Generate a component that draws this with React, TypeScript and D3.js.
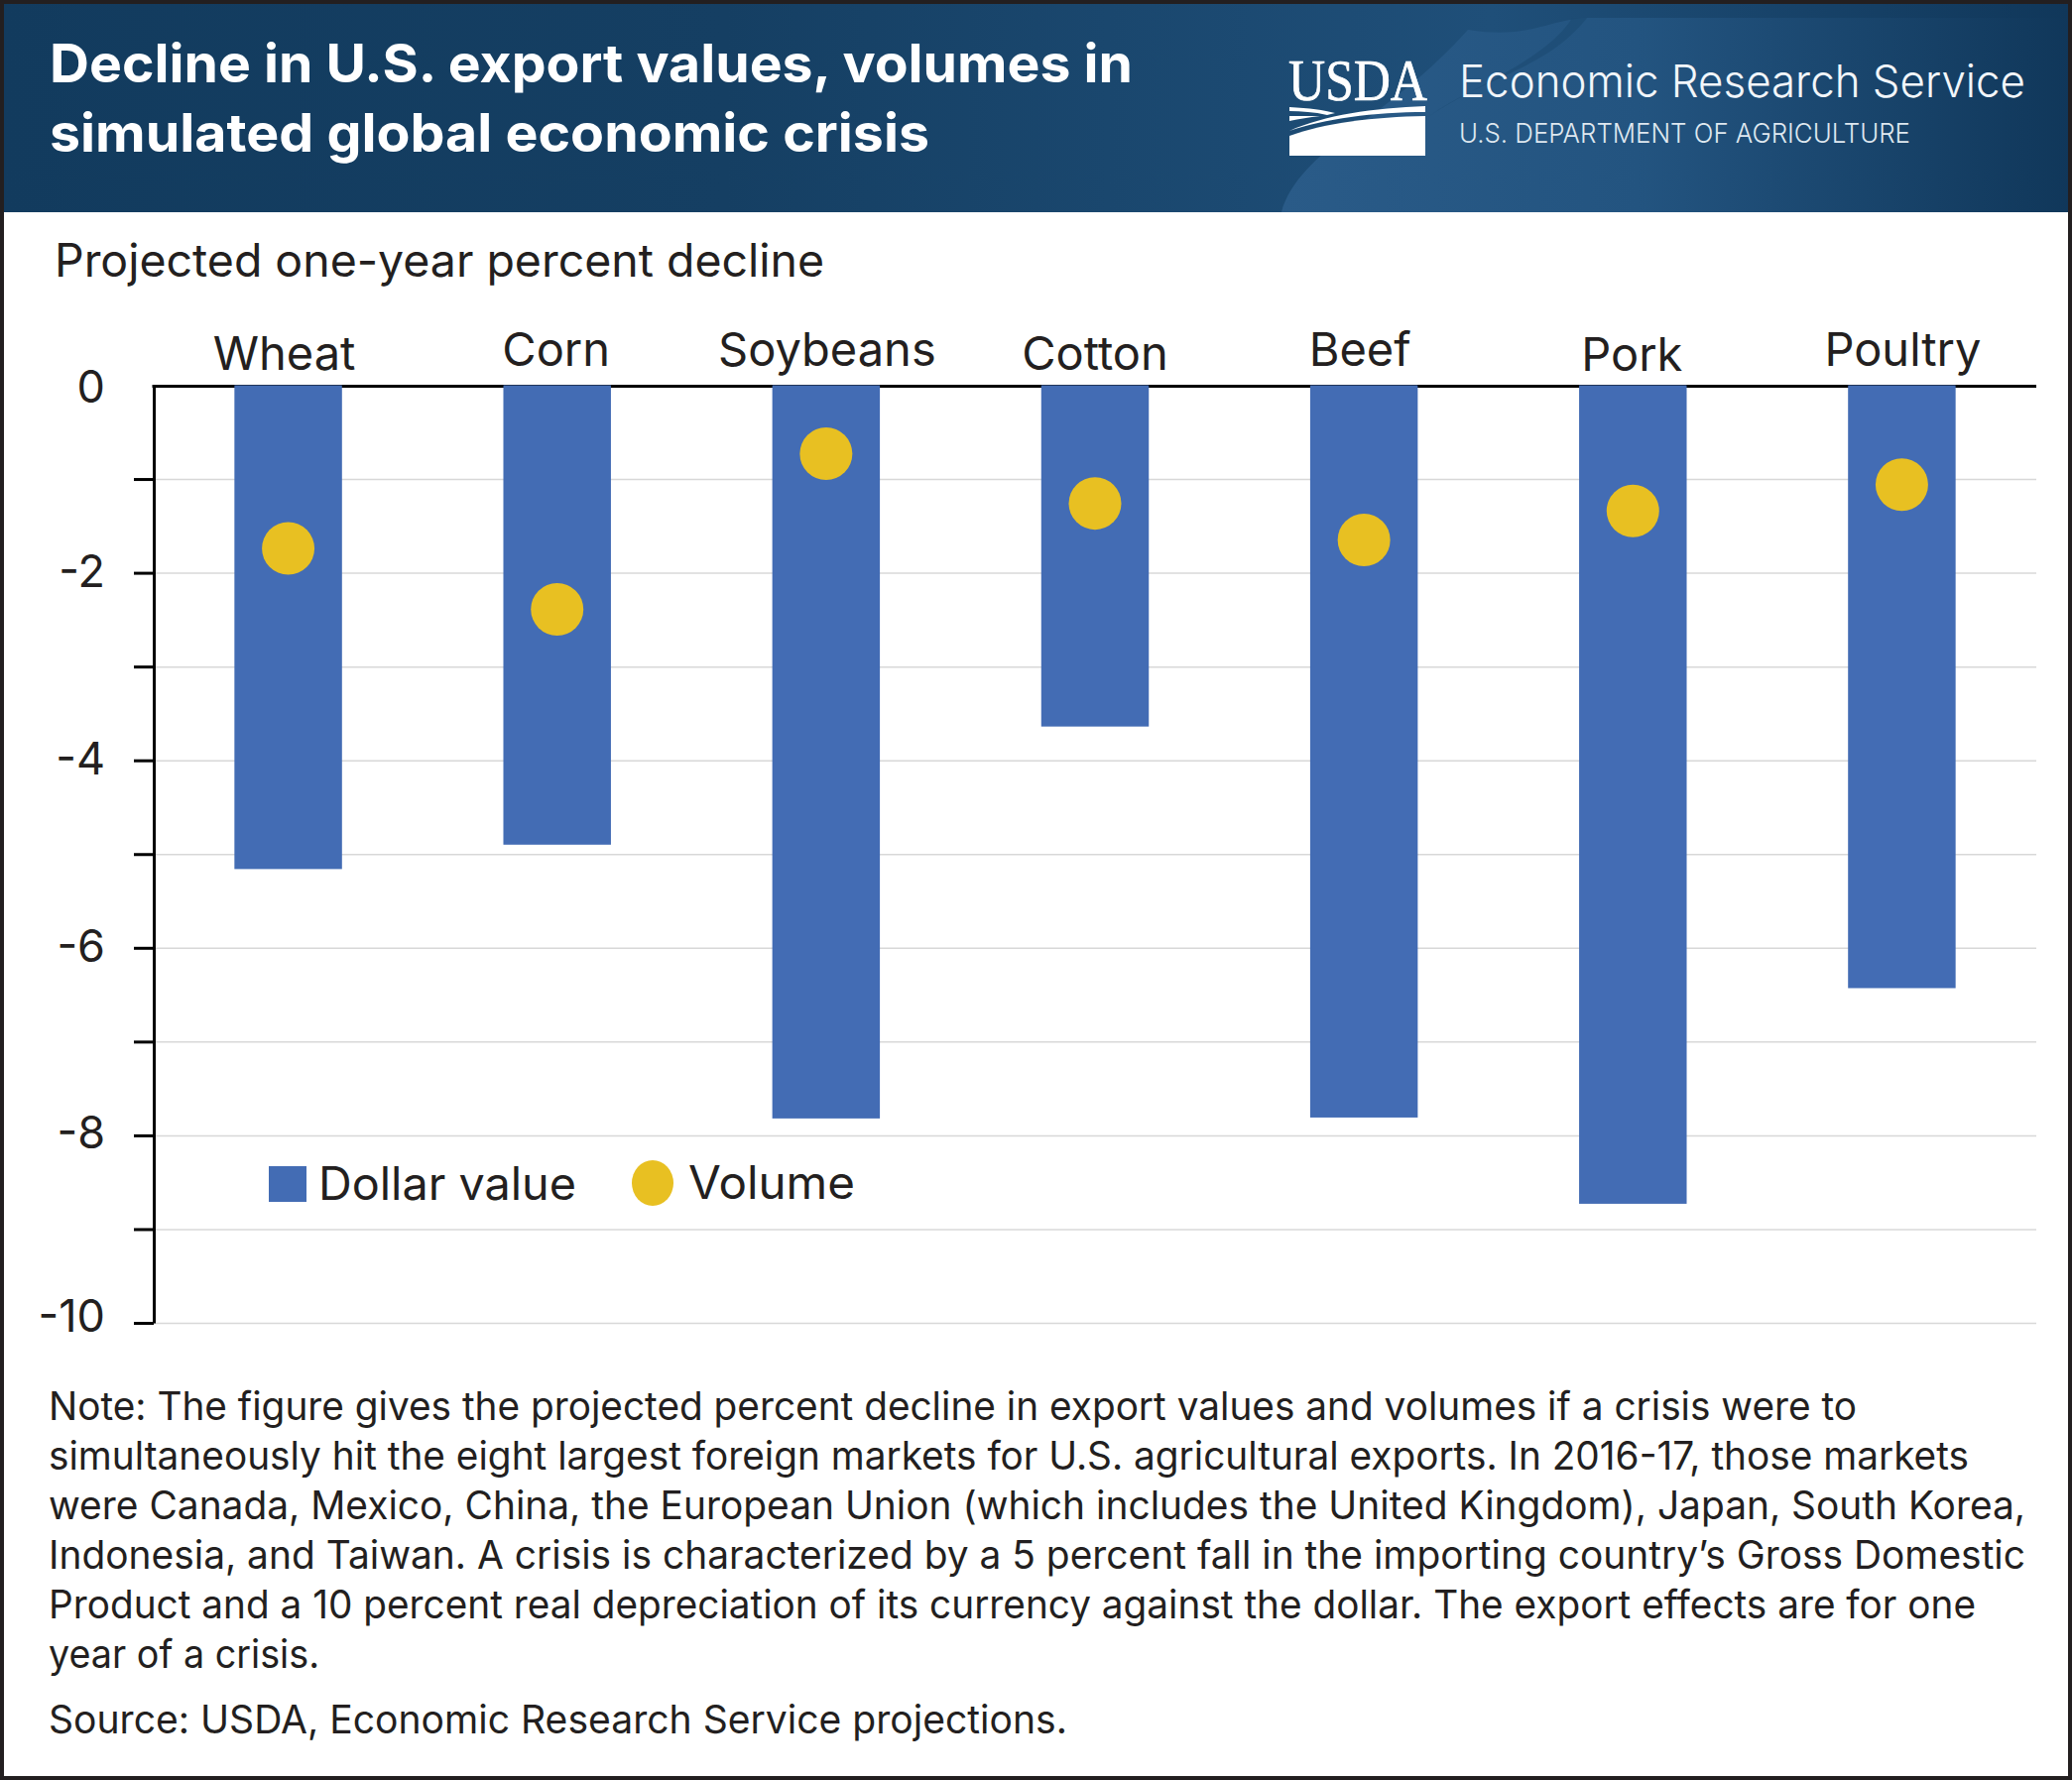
import React, { useRef, useEffect } from "react"
import * as d3 from "d3"

const categories = ["Wheat", "Corn", "Soybeans", "Cotton", "Beef", "Pork", "Poultry"]
const dollarValue = [-5.16, -4.9, -7.82, -3.64, -7.81, -8.73, -6.43]
const volume = [-1.74, -2.39, -0.73, -1.26, -1.65, -1.34, -1.06]
const yTicks = [0, -1, -2, -3, -4, -5, -6, -7, -8, -9, -10]

const titleLines = ["Decline in U.S. export values, volumes in", "simulated global economic crisis"]
const noteLines = [
	"Note: The figure gives the projected percent decline in export values and volumes if a crisis were to",
	"simultaneously hit the eight largest foreign markets for U.S. agricultural exports. In 2016-17, those markets",
	"were Canada, Mexico, China, the European Union (which includes the United Kingdom), Japan, South Korea,",
	"Indonesia, and Taiwan. A crisis is characterized by a 5 percent fall in the importing country\u2019s Gross Domestic",
	"Product and a 10 percent real depreciation of its currency against the dollar. The export effects are for one",
	"year of a crisis.",
]
const noteWidths = [1823, 1936, 1993, 1993, 1943, 273]

// the labels sit a little unevenly in the original
const labelDx = [-4, -1, 1, 0, -4, -1, 1]
const labelDy = [4, 0, 0, 4, 0, 5, 0]
const tickLabelDy = [3, 0, -1, 0, -1, 0, -1, 0, -2, 0, -6]

const W = 2089
const H = 1795
const FONT = "Inter, sans-serif"
const INK = "#231f20"
const BLUE = "#436cb4"
const GOLD = "#e8c022"

const App: React.FunctionComponent = () => {
	const svgRef = useRef<any>()

	useEffect(() => {
		const svg = d3.select(svgRef.current)
		svg.selectAll("*").remove()

		const defs = svg.append("defs")
		const grad = defs.append("linearGradient").attr("id", "hdr")
		grad.append("stop").attr("offset", "0").attr("stop-color", "#123b5e")
		grad.append("stop").attr("offset", "0.35").attr("stop-color", "#153f63")
		grad.append("stop").attr("offset", "0.72").attr("stop-color", "#1f4f79")
		grad.append("stop").attr("offset", "1").attr("stop-color", "#10375a")
		const grad2 = defs.append("linearGradient").attr("id", "swoosh")
		grad2.append("stop").attr("offset", "0").attr("stop-color", "#2a5b88")
		grad2.append("stop").attr("offset", "0.45").attr("stop-color", "#235480")
		grad2.append("stop").attr("offset", "1").attr("stop-color", "#10375a")

		svg.append("rect").attr("width", W).attr("height", H).attr("fill", "#fff")

		// header band
		svg.append("rect").attr("y", 4).attr("width", W).attr("height", 210).attr("fill", "url(#hdr)")
		svg.append("path")
			.attr("d", "M1292,214 C1310,150 1400,120 1480,30 C1540,40 1560,20 1600,18 L2089,18 L2089,214 Z")
			.attr("fill", "url(#swoosh)")
		svg.append("path")
			.attr("d", "M1440,118 C1490,80 1560,70 1600,18 L1585,18 C1560,60 1480,90 1440,118 Z")
			.attr("fill", "#1c4b74")
			.attr("opacity", 0.7)

		const text = (g: any, s: string, x: number, y: number, size: number, w?: number) => {
			const t = g.append("text")
				.attr("x", x)
				.attr("y", y)
				.attr("font-family", FONT)
				.attr("font-size", size)
				.attr("fill", INK)
				.text(s)
			if (w) t.attr("textLength", w).attr("lengthAdjust", "spacingAndGlyphs")
			return t
		}

		text(svg, titleLines[0], 50, 83, 54, 1092).attr("fill", "#fff").attr("font-weight", 700)
		text(svg, titleLines[1], 50, 153, 54, 887).attr("fill", "#fff").attr("font-weight", 700)

		// logo
		text(svg, "USDA", 1299, 101, 59, 140)
			.attr("fill", "#fff")
			.attr("stroke", "#fff")
			.attr("stroke-width", 0.7)
			.attr("font-family", "'Liberation Serif', serif")
		svg.append("path")
			.attr("d", "M1300,137 C1335,124 1385,118 1437,117 L1437,157 L1300,157 Z")
			.attr("fill", "#fff")
		svg.append("path")
			.attr("d", "M1300,132 C1335,116 1385,109 1437,107 L1437,113 C1385,113 1335,120 1300,132 Z")
			.attr("fill", "#fff")
		svg.append("path").attr("d", "M1300,108 C1320,109 1335,111 1346,114 L1338,116 C1325,113 1312,112 1300,112 Z").attr("fill", "#fff")
		svg.append("path").attr("d", "M1300,117 L1331,117 C1320,118 1310,120 1300,122 Z").attr("fill", "#fff")

		text(svg, "Economic Research Service", 1471, 98, 45, 571).attr("fill", "#f2f6fa").attr("font-weight", 300)
		text(svg, "U.S. DEPARTMENT OF AGRICULTURE", 1471, 144, 27, 455).attr("fill", "#dfe8f0").attr("font-weight", 300)

		text(svg, "Projected one-year percent decline", 55, 279, 46, 776)

		// chart
		const x = d3.scaleBand<string>().domain(categories).range([155, 2053]).paddingInner(0.6).paddingOuter(0.3)
		const y = d3.scaleLinear().domain([0, -10]).range([388.5, 1334])

		const grid = svg.append("g")
			.attr("transform", "translate(155,0)")
			.call(d3.axisLeft(y).tickValues(yTicks.slice(1)).tickSize(-1898).tickFormat(() => ""))
		grid.select(".domain").remove()
		grid.selectAll("line").attr("stroke", "#d8d8d8").attr("stroke-width", 1.5)

		const yAxis = svg.append("g")
			.attr("transform", "translate(155,0)")
			.call(
				d3.axisLeft(y)
					.tickValues(yTicks)
					.tickSize(20)
					.tickSizeOuter(0)
					.tickPadding(29)
					.tickFormat((d: any) => (d % 2 === 0 ? String(d) : ""))
			)
		yAxis.select(".domain").attr("stroke", "#000").attr("stroke-width", 3)
		yAxis.selectAll("line").attr("stroke", "#000").attr("stroke-width", 3)
		yAxis.selectAll("g.tick").filter((d: any) => d === 0).select("line").remove()
		yAxis.selectAll("text")
			.attr("font-family", FONT)
			.attr("font-size", 45)
			.attr("fill", INK)
			.attr("transform", (d: any) => `translate(0,${tickLabelDy[yTicks.indexOf(d)]})`)

		svg.append("line")
			.attr("x1", 153.5)
			.attr("x2", 2053)
			.attr("y1", y(0) + 1)
			.attr("y2", y(0) + 1)
			.attr("stroke", "#000")
			.attr("stroke-width", 3)

		svg.append("g")
			.selectAll("rect")
			.data(dollarValue)
			.join("rect")
			.attr("x", (d, i) => x(categories[i]) as number)
			.attr("y", y(0))
			.attr("width", x.bandwidth())
			.attr("height", (d) => y(d) - y(0))
			.attr("fill", BLUE)

		svg.append("g")
			.selectAll("circle")
			.data(volume)
			.join("circle")
			.attr("cx", (d, i) => (x(categories[i]) as number) + x.bandwidth() / 2)
			.attr("cy", (d) => y(d))
			.attr("r", 26.5)
			.attr("fill", GOLD)

		const catAxis = svg.append("g")
			.attr("transform", "translate(0,369)")
			.call(d3.axisTop(x).tickSize(0).tickPadding(0))
		catAxis.select(".domain").remove()
		catAxis.selectAll("text")
			.attr("font-family", FONT)
			.attr("font-size", 47)
			.attr("fill", INK)
			.attr("dy", 0)
			.attr("transform", (d: any) => {
				const i = categories.indexOf(d)
				return `translate(${labelDx[i]},${labelDy[i]})`
			})

		// legend
		svg.append("rect").attr("x", 271).attr("y", 1176).attr("width", 38).attr("height", 36).attr("fill", BLUE)
		text(svg, "Dollar value", 321, 1210, 46, 260)
		svg.append("ellipse").attr("cx", 658).attr("cy", 1193).attr("rx", 21).attr("ry", 23).attr("fill", GOLD)
		text(svg, "Volume", 694, 1209, 46, 168)

		// note
		noteLines.forEach((s, i) => {
			text(svg, s, 49, 1432 + i * 50, 39, noteWidths[i])
		})
		text(svg, "Source: USDA, Economic Research Service projections.", 49, 1748, 39, 1027)

		// outer frame
		svg.append("rect")
			.attr("x", 2)
			.attr("y", 2)
			.attr("width", W - 4)
			.attr("height", H - 4)
			.attr("fill", "none")
			.attr("stroke", INK)
			.attr("stroke-width", 4)
	}, [])

	return <svg ref={svgRef} width={W} height={H} style={{ position: "absolute", left: 0, top: 0 }}></svg>
}

export default App
